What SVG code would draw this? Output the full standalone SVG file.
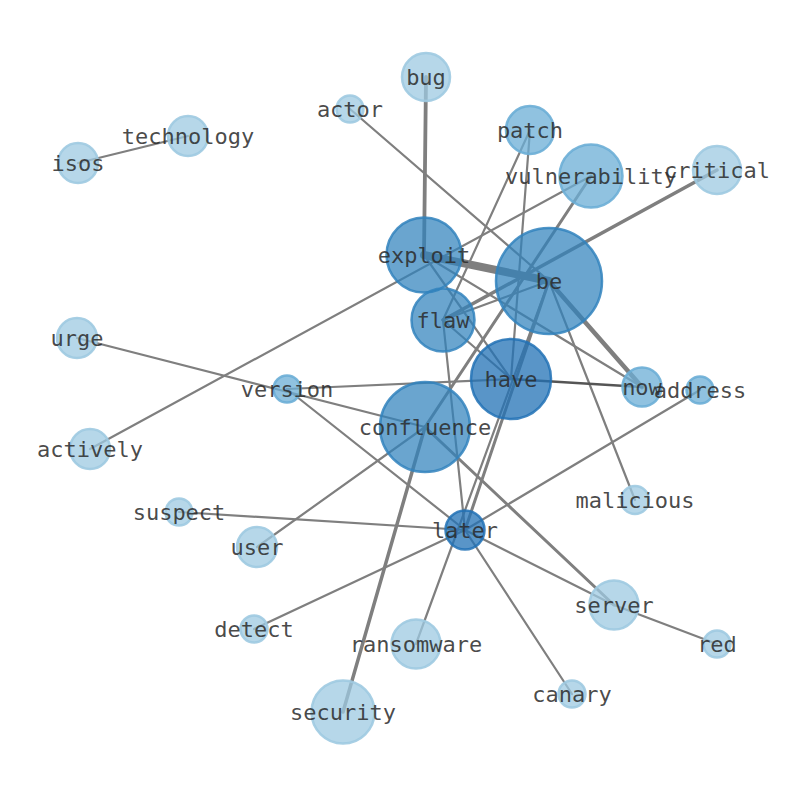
<svg xmlns="http://www.w3.org/2000/svg" width="794" height="790" viewBox="0 0 794 790">
<style>
.e{stroke:#7f7f7f;stroke-width:2.2;fill:none;stroke-linecap:round}
.n circle{stroke-width:2.5}
.c1 circle{fill:#9ecae1;fill-opacity:.75;stroke:#9ecae1;stroke-opacity:.9}
.c2 circle{fill:#6baed6;fill-opacity:.75;stroke:#6baed6;stroke-opacity:.9}
.c3 circle{fill:#3182bd;fill-opacity:.72;stroke:#3182bd;stroke-opacity:.85}
.c4 circle{fill:#2171b5;fill-opacity:.75;stroke:#2171b5;stroke-opacity:.85}
text{font-family:"DejaVu Sans Mono","Liberation Mono",monospace;font-size:22px;fill:#2a2a2a;fill-opacity:.85;text-anchor:middle;dominant-baseline:central}
</style>
<rect width="794" height="790" fill="#fff"/>
<g id="edges">
<line class="e" x1="78" y1="163" x2="188" y2="136"/>
<line class="e" x1="426" y1="77" x2="424" y2="255" style="stroke-width:3.8"/>
<line class="e" x1="350" y1="109" x2="549" y2="281"/>
<line class="e" x1="530" y1="130" x2="443" y2="320"/>
<line class="e" x1="530" y1="130" x2="511" y2="379"/>
<line class="e" x1="591" y1="176" x2="425" y2="427" style="stroke-width:3"/>
<line class="e" x1="591" y1="176" x2="90" y2="449"/>
<line class="e" x1="717" y1="170" x2="443" y2="320" style="stroke-width:3.5"/>
<line class="e" x1="424" y1="255" x2="549" y2="281" style="stroke-width:8"/>
<line class="e" x1="424" y1="255" x2="642" y2="387"/>
<line class="e" x1="424" y1="255" x2="511" y2="379"/>
<line class="e" x1="443" y1="320" x2="549" y2="281"/>
<line class="e" x1="443" y1="320" x2="511" y2="379"/>
<line class="e" x1="443" y1="320" x2="465" y2="530"/>
<line class="e" x1="549" y1="281" x2="642" y2="387" style="stroke-width:4.5"/>
<line class="e" x1="549" y1="281" x2="635" y2="500"/>
<line class="e" x1="549" y1="281" x2="465" y2="530" style="stroke-width:3"/>
<line class="e" x1="549" y1="281" x2="416" y2="644"/>
<line class="e" x1="511" y1="379" x2="642" y2="387" style="stroke:#555;stroke-width:2.5"/>
<line class="e" x1="287" y1="389" x2="511" y2="379"/>
<line class="e" x1="77" y1="338" x2="425" y2="427"/>
<line class="e" x1="287" y1="389" x2="465" y2="530"/>
<line class="e" x1="425" y1="427" x2="257" y2="547"/>
<line class="e" x1="425" y1="427" x2="343" y2="712" style="stroke-width:3.5"/>
<line class="e" x1="425" y1="427" x2="614" y2="605" style="stroke-width:3"/>
<line class="e" x1="179" y1="512" x2="465" y2="530"/>
<line class="e" x1="254" y1="629" x2="465" y2="530"/>
<line class="e" x1="465" y1="530" x2="700" y2="390"/>
<line class="e" x1="465" y1="530" x2="614" y2="605"/>
<line class="e" x1="614" y1="605" x2="717" y2="644"/>
<line class="e" x1="465" y1="530" x2="572" y2="694"/>
</g>
<g id="bug" class="n c1"><circle cx="426" cy="77" r="24"/><text x="426" y="77">bug</text></g>
<g id="actor" class="n c1"><circle cx="350" cy="109" r="13.5"/><text x="350" y="109">actor</text></g>
<g id="technology" class="n c1"><circle cx="188" cy="136" r="20"/><text x="188" y="136">technology</text></g>
<g id="isos" class="n c1"><circle cx="78" cy="163" r="20"/><text x="78" y="163">isos</text></g>
<g id="patch" class="n c2"><circle cx="530" cy="130" r="24"/><text x="530" y="130">patch</text></g>
<g id="vulnerability" class="n c2"><circle cx="591" cy="176" r="31.5"/><text x="591" y="176">vulnerability</text></g>
<g id="critical" class="n c1"><circle cx="717" cy="170" r="24"/><text x="717" y="170">critical</text></g>
<g id="exploit" class="n c3"><circle cx="424" cy="255" r="37.5"/><text x="424" y="255">exploit</text></g>
<g id="be" class="n c3"><circle cx="549" cy="281" r="53"/><text x="549" y="281">be</text></g>
<g id="flaw" class="n c3"><circle cx="443" cy="320" r="31.5"/><text x="443" y="320">flaw</text></g>
<g id="urge" class="n c1"><circle cx="77" cy="338" r="20"/><text x="77" y="338">urge</text></g>
<g id="have" class="n c4"><circle cx="511" cy="379" r="40"/><text x="511" y="379">have</text></g>
<g id="now" class="n c2"><circle cx="642" cy="387" r="19.5"/><text x="642" y="387">now</text></g>
<g id="address" class="n c2"><circle cx="700" cy="390" r="13.5"/><text x="700" y="390">address</text></g>
<g id="version" class="n c2"><circle cx="287" cy="389" r="13.5"/><text x="287" y="389">version</text></g>
<g id="confluence" class="n c3"><circle cx="425" cy="427" r="45"/><text x="425" y="427">confluence</text></g>
<g id="actively" class="n c1"><circle cx="90" cy="449" r="20"/><text x="90" y="449">actively</text></g>
<g id="malicious" class="n c1"><circle cx="635" cy="500" r="14"/><text x="635" y="500">malicious</text></g>
<g id="suspect" class="n c1"><circle cx="179" cy="512" r="13.5"/><text x="179" y="512">suspect</text></g>
<g id="later" class="n c4"><circle cx="465" cy="530" r="19.5"/><text x="465" y="530">later</text></g>
<g id="user" class="n c1"><circle cx="257" cy="547" r="20"/><text x="257" y="547">user</text></g>
<g id="server" class="n c1"><circle cx="614" cy="605" r="24.5"/><text x="614" y="605">server</text></g>
<g id="red" class="n c1"><circle cx="717" cy="644" r="13.5"/><text x="717" y="644">red</text></g>
<g id="detect" class="n c1"><circle cx="254" cy="629" r="13.5"/><text x="254" y="629">detect</text></g>
<g id="ransomware" class="n c1"><circle cx="416" cy="644" r="24.5"/><text x="416" y="644">ransomware</text></g>
<g id="canary" class="n c1"><circle cx="572" cy="694" r="13.5"/><text x="572" y="694">canary</text></g>
<g id="security" class="n c1"><circle cx="343" cy="712" r="31.5"/><text x="343" y="712">security</text></g>
</svg>
